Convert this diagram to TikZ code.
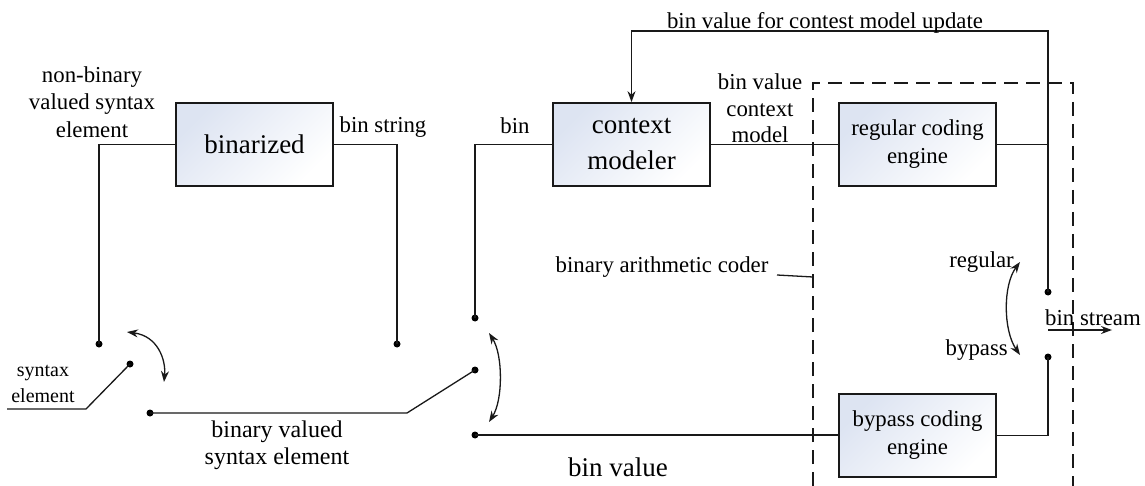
\documentclass[tikz,border=0pt]{standalone}
\usepackage{fontspec}
\setmainfont{Liberation Serif}
\newfontfamily\tnr{Liberation Serif}
\usetikzlibrary{arrows.meta}
\definecolor{boxblue}{HTML}{DDE4F2}
\begin{document}
\begin{tikzpicture}[x=1pt,y=-1pt,
  box/.style={draw=black!90, line width=1.7pt, top color=boxblue, bottom color=white, shading angle=45,
    minimum width=157pt, minimum height=83pt, align=center, inner sep=0pt},
  bigtxt/.style={font=\tnr\fontsize{27}{36}\selectfont},
  midtxt/.style={font=\tnr\fontsize{22.8}{28}\selectfont},
  lbl/.style={inner sep=0pt, align=center, font=\tnr\fontsize{22.8}{27.5}\selectfont},
  smalltxt/.style={inner sep=0pt, align=center, font=\tnr\fontsize{20}{26}\selectfont},
  wire/.style={draw=black!90, line width=1.3pt},
  dot/.style={circle, fill=black, inner sep=0pt, minimum size=7pt},
  swarc/.style={draw=black!90, line width=1.3pt, {Stealth[length=11pt,width=8pt]}-{Stealth[length=11pt,width=8pt]}},
  tip/.style={-{Stealth[length=11pt,width=8pt]}},
  dashbox/.style={draw=black!90, line width=1.6pt, dash pattern=on 14pt off 8pt}]
\useasboundingbox (0,0) rectangle (1145,486);

% boxes
\node[box, bigtxt] (bin) at (254.5,144.5) {binarized};
\node[box, bigtxt] (cm) at (631.5,144.5) {context\\modeler};
\node[box, midtxt] (reg) at (917.5,144.5) {regular coding\\engine};
\node[box, midtxt] (byp) at (917.5,435.5) {bypass coding\\engine};

% dashed region (binary arithmetic coder)
\draw[dashbox] (813,486) -- (813,83) -- (1073,83) -- (1073,486);

% switch contacts
\node[dot] (d1) at (99,344) {};
\node[dot] (p1) at (130,364) {};
\node[dot] (dbv) at (150,413) {};
\node[dot] (dbs) at (397,344) {};
\node[dot] (d2t) at (475,318) {};
\node[dot] (p2) at (475,370) {};
\node[dot] (d2b) at (475,435) {};
\node[dot] (d3t) at (1048,292) {};
\node[dot] (d3b) at (1048,357) {};

\coordinate (se0) at (7,409);
\coordinate (se1) at (86,409);
\coordinate (bv1) at (407,413);
\coordinate (fb1) at (1048,31);
\coordinate (bs0) at (1048,330);
\coordinate (bs1) at (1112,330);
\coordinate (ld0) at (777,275);
\coordinate (ld1) at (813,277);

% wires
\draw[wire] (d1.center) |- (bin.west);
\draw[wire] (bin.east) -| (dbs.center);
\draw[wire] (se0) -- (se1) -- (p1.center);
\draw[wire] (dbv.center) -- (bv1) -- (p2.center);
\draw[wire] (d2t.center) |- (cm.west);
\draw[wire] (cm.east) -- (reg.west);
\draw[wire] (reg.east) -- (reg.east -| d3t);
\draw[wire, tip] (d3t.center) -- (fb1) -| (cm.north);
\draw[wire] (d2b.center) -- (d2b.center -| byp.west);
\draw[wire] (byp.east) -| (d3b.center);
\draw[wire, tip] (bs0) -- (bs1);
\draw[wire] (ld0) -- (ld1);

% switch arcs
\draw[swarc] (127,332) .. controls (158,336) and (166,360) .. (164,382);
\draw[swarc] (489,333) .. controls (503,355) and (503,400) .. (489,422);
\draw[swarc] (1020,262) .. controls (1003,285) and (1003,330) .. (1020,355);

% labels
\node[lbl] (tnb) at (92,102) {non-binary\\valued syntax\\element};
\node[lbl] (tbs) at (383,127) {bin string};
\node[lbl] (tbin) at (515,126) {bin};
\node[lbl, font=\tnr\fontsize{22.8}{26.5}\selectfont] (tbvcm) at (760,108.5) {bin value\\context\\model};
\node[lbl] (tfb) at (825,23) {bin value for contest model update};
\node[lbl, anchor=east] (treg) at (1014,262) {regular};
\node[lbl, anchor=east] (tbyp) at (1008,350) {bypass};
\node[lbl, anchor=west] (tbs2) at (1045,318) {bin stream};
\node[lbl] (tbac) at (662,267) {binary arithmetic coder};
\node[smalltxt] (tse) at (43,384) {syntax\\element};
\node[lbl, font=\tnr\fontsize{24}{27}\selectfont] (tbvse) at (277,445) {binary valued\\syntax element};
\node[lbl, font=\tnr\fontsize{27}{32}\selectfont] (tbv) at (618,467) {bin value};
\end{tikzpicture}
\end{document}
